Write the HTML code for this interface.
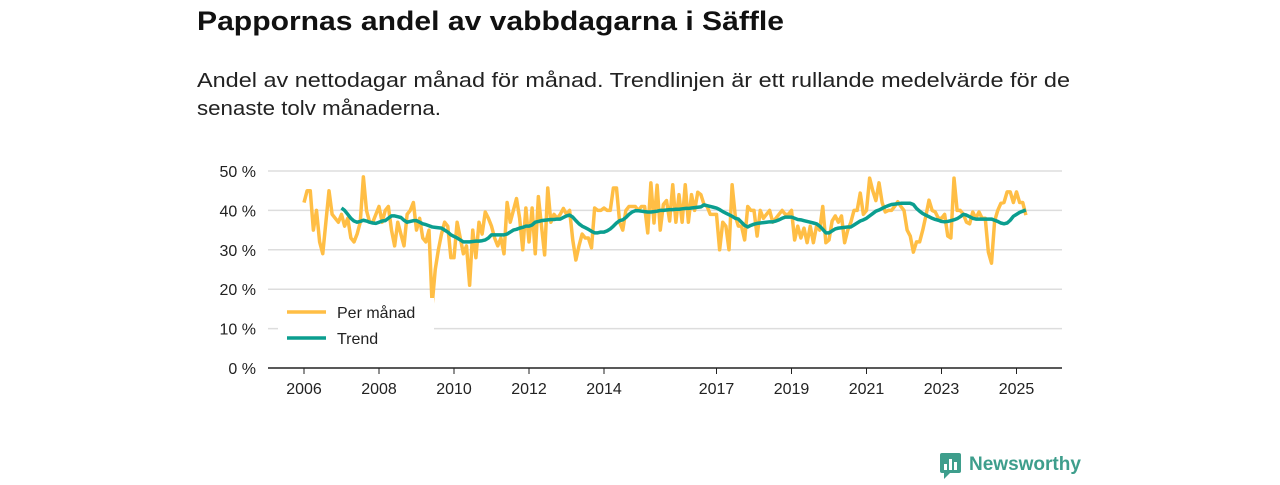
<!DOCTYPE html>
<html><head><meta charset="utf-8"><style>
body{margin:0;background:#fff;width:1280px;height:480px;overflow:hidden;font-family:"Liberation Sans","DejaVu Sans",sans-serif}
</style></head><body>
<svg id="chart" width="1280" height="480" xmlns="http://www.w3.org/2000/svg">
<text x="197" y="30" font-size="27" font-weight="bold" fill="#111" textLength="587" lengthAdjust="spacingAndGlyphs">Pappornas andel av vabbdagarna i Säffle</text>
<text x="197" y="87" font-size="20" fill="#222" textLength="873" lengthAdjust="spacingAndGlyphs">Andel av nettodagar månad för månad. Trendlinjen är ett rullande medelvärde för de</text>
<text x="197" y="115" font-size="20" fill="#222" textLength="244" lengthAdjust="spacingAndGlyphs">senaste tolv månaderna.</text>
<g id="grid"></g><g id="axes"></g><g id="series"></g>
<g>
<rect x="278" y="298" width="156" height="56" fill="#fff"/>
<line x1="287" y1="312" x2="326" y2="312" stroke="#ffbe45" stroke-width="3.5"/>
<text x="337" y="318" font-size="16" fill="#222">Per månad</text>
<line x1="287" y1="338" x2="326" y2="338" stroke="#0b9e8f" stroke-width="3.5"/>
<text x="337" y="344" font-size="16" fill="#222">Trend</text>
</g>
<g>
<rect x="940" y="453" width="21" height="20" rx="2" fill="#3e9e8c"/>
<path d="M944 473 L944 479 L950 473 Z" fill="#3e9e8c"/>
<rect x="944" y="464" width="3" height="6" fill="#fff"/><rect x="949" y="459" width="3" height="11" fill="#fff"/><rect x="954" y="462" width="3" height="8" fill="#fff"/>
<text x="969" y="470" font-size="19" font-weight="bold" fill="#3e9e8c">Newsworthy</text>
</g>
</svg>
<script>
const yTicks=[0,10,20,30,40,50];
const xTickYears=[2006,2008,2010,2012,2014,2017,2019,2021,2023,2025];
const startYear=2006;
const monthly=[42,45,45,35,40,32,29,37,45,39,38,37,
39,36,38,33,32,34,37,48.5,40,37,37,39,
41,37,40,41,35,31,37,34,31,39,40,42,
35,38,33,32,35,16,25,30,34,37,36,28,
28,37,33,29,31,21,35,28,37,34,39.6,38,
36,33,31,33,29,42,37,40,43,38,30,40.6,
32,40.6,29,43.5,36,28.7,45.7,37,39,38,39,40.5,
39,40,32.5,27.4,31,34,33,33,30.5,40.6,40,40,
40.6,40,40,45.7,45.7,37,35,40,41,41,41,40,
41,41,34.3,47,36.8,46.4,35,41.5,42.5,37.3,46.5,37,
44,37,46.5,37,44,40,44.6,44,41.5,41,39,39,
39,30,37,36,30,46.5,38.6,36,36,32.5,41,40,
40,33.5,40,38,39,40,37,38,39,40,39,39,
40,32.5,36,33,35.5,31.8,36,31.8,36,35,41,31.8,
32.5,37.3,38.6,37,38.6,31.8,35,37,40,40,44.4,39,
40,48.2,45,42.5,47,42,39.6,40,40,41,42.2,41,
40,35,33.5,29.4,32,32,35,38.6,42.6,40,39.6,38,
38,39,33.5,33,48.2,40,40,39,37,36.6,39.6,38,
39.6,38,38,29.4,26.6,37.3,40,41.8,42,44.7,44.7,42,
44.7,42,42,38.8];
const trendStart=12;
const trend=[40.6,40,39,38,37.3,37,37.2,37.5,37.3,37,36.8,36.7,
37,37.3,37.4,38,38.6,38.6,38.4,38.2,37.5,37,37.2,37.4,
37.4,37,36.6,36.4,36.1,35.8,35.7,35.6,35.5,35,34.5,33.8,
33.4,33,32.5,32,32,32,32.1,32.2,32.2,32.3,32.5,33,
33.8,33.8,33.8,33.8,33.8,34,34.5,35,35.2,35.5,35.7,36,
36,36.3,37,37.2,37.4,37.5,37.6,37.7,37.7,37.8,37.8,38.2,
38.6,38.8,38.3,37.4,36.6,36,35.6,35.2,34.7,34.3,34.3,34.5,
34.5,34.8,35.3,36,36.8,37.4,37.6,38.2,39,39.6,39.9,39.9,
39.8,39.7,39.6,39.6,39.7,39.8,40,40,40.1,40.2,40.2,40.3,
40.3,40.4,40.5,40.5,40.6,40.7,40.8,40.9,41.4,41.2,41,40.8,
40.6,40.2,39.7,39.3,38.9,38.5,38,37.8,37,36.2,35.8,36.2,
36.5,36.7,36.8,36.9,37,37.1,37.1,37.3,37.6,38,38.3,38.3,
38.3,38,37.7,37.6,37.4,37.2,37,36.8,36.6,36,35.2,34.3,
34.3,34.8,35.3,35.5,35.6,35.7,35.8,35.8,36.3,36.8,37.3,37.6,
38,38.6,39.2,39.8,40.1,40.5,40.9,41.2,41.5,41.6,41.7,41.8,
41.8,41.8,41.8,41.5,40.5,39.8,39.2,38.8,38.4,38,37.7,37.5,
37.2,37.1,37.2,37.4,37.6,37.9,38.4,39,38.8,38.4,38,37.8,
37.8,37.8,37.8,37.8,37.8,37.5,37.2,36.8,36.6,36.8,37.5,38.5,
39,39.5,39.8,40.1];
const NS='http://www.w3.org/2000/svg';
const X0=268,X1=1062;
function xYear(y){return 304+(y-startYear)*37.5;}
function xMonth(i){return xYear(startYear+i/12);}
function yVal(v){return 368-v*3.94;}
function mk(tag,attrs,parent){const e=document.createElementNS(NS,tag);for(const k in attrs)e.setAttribute(k,attrs[k]);document.getElementById(parent).appendChild(e);return e;}
yTicks.forEach(t=>{
 const l=mk('line',{x1:X0,x2:X1,y1:yVal(t),y2:yVal(t),stroke:t===0?'#222':'#ddd','stroke-width':t===0?1.5:1.5},'grid');
 
 
 const tx=mk('text',{x:256,y:yVal(t)+6,'text-anchor':'end','font-size':16,fill:'#222'},'axes');
 tx.textContent=t+' %';
 
 
});
xTickYears.forEach(yr=>{
 const x=xYear(yr);
 const l=mk('line',{x1:x,x2:x,y1:368,y2:374,stroke:'#222','stroke-width':1},'axes');
 
 
 const tx=mk('text',{x:x,y:394,'text-anchor':'middle','font-size':16,fill:'#222'},'axes');
 tx.textContent=yr;
 
 
});
const p1=mk('polyline',{points:monthly.map((v,i)=>xMonth(i)+','+yVal(v)).join(' '),fill:'none',stroke:'#ffbe45','stroke-width':3.5,'stroke-linejoin':'round'},'series');


const p2=mk('polyline',{points:trend.map((v,i)=>xMonth(i+trendStart)+','+yVal(v)).join(' '),fill:'none',stroke:'#0b9e8f','stroke-width':3.5,'stroke-linejoin':'round'},'series');


</script>
</body></html>
